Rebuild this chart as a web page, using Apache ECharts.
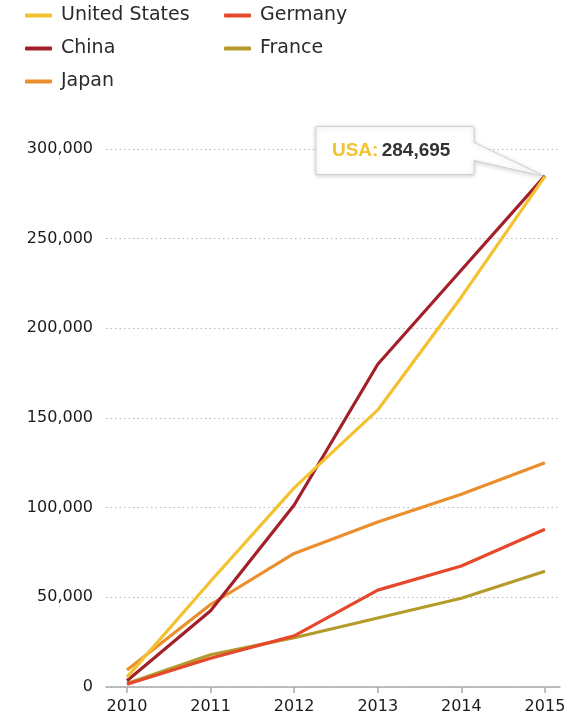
<!DOCTYPE html>
<html>
<head>
<meta charset="utf-8">
<script src="https://cdn.jsdelivr.net/npm/echarts@6/dist/echarts.min.js"></script>
<style>
  html, body { margin: 0; padding: 0; background: #fff; }
  #chart { width: 572px; height: 725px; }
</style>
</head>
<body>
<div id="chart"></div>
<script>
var years = [2010, 2011, 2012, 2013, 2014, 2015]
var usa = [5500, 59000, 111000, 154500, 217500, 284695]
var china = [3500, 42500, 101500, 180000, 232500, 285000]
var japan = [9500, 46000, 74500, 92000, 107500, 125000]
var germany = [1500, 16000, 28500, 54000, 67500, 88000]
var france = [2000, 18000, 27500, 38500, 49500, 64500]
var yTicks = [0, 50000, 100000, 150000, 200000, 250000, 300000]

var font = 'DejaVu Sans'
var colors = ['#F2C230', '#A3202A', '#EB8F2D', '#E5482A', '#B59B2A']

function pairs(values) {
  return years.map(function(y, i) { return [y, values[i]] })
}

function fmt(v) {
  return Number(v).toLocaleString('en-US')
}

var chart = echarts.init(document.getElementById('chart'), null, { renderer: 'canvas' })

var names = ['United States', 'China', 'Japan', 'Germany', 'France']
var values = [usa, china, japan, germany, france]
var series = []
for (var i = 0; i < names.length; i++) {
  series.push({
    name: names[i],
    type: 'line',
    data: pairs(values[i]),
    showSymbol: false,
    symbol: 'none',
    lineStyle: { width: 3.2, color: colors[i] },
    itemStyle: { color: colors[i] },
    z: 10 - i
  })
}

var legendBase = {
  orient: 'vertical',
  top: 1,
  itemGap: 14,
  itemWidth: 27,
  itemHeight: 4,
  icon: 'roundRect',
  textStyle: { fontFamily: font, fontSize: 19, color: '#2a2a2a', padding: [0, 0, 0, 4] }
}

chart.setOption({
  animation: false,
  legend: [
    Object.assign({}, legendBase, { left: 20, data: ['United States', 'China', 'Japan'] }),
    Object.assign({}, legendBase, { left: 219, data: ['Germany', 'France'] })
  ],
  grid: { left: 106, right: 12, top: 149, bottom: 38, containLabel: false },
  xAxis: {
    type: 'value',
    min: 2009.749,
    max: 2015.18,
    axisLine: { show: true, onZero: false, lineStyle: { color: '#aaa', width: 1.5 } },
    axisTick: { show: true, length: 6, customValues: years, lineStyle: { color: '#aaa', width: 1.5 } },
    axisLabel: {
      customValues: years,
      margin: 12,
      fontFamily: font,
      fontSize: 16,
      color: '#1a1a1a',
      formatter: function(v) { return String(v) }
    },
    splitLine: { show: false }
  },
  yAxis: {
    type: 'value',
    min: 0,
    max: 300000,
    interval: 50000,
    axisLine: { show: false },
    axisTick: { show: false },
    axisLabel: {
      margin: 13,
      fontFamily: font,
      fontSize: 16,
      color: '#1a1a1a',
      formatter: function(v) { return fmt(v) }
    },
    splitLine: { lineStyle: { type: [1.5, 3], color: '#bbb', width: 1.2 } }
  },
  series: series
})

// callout for the last USA value
var last = years.length - 1
var p = chart.convertToPixel({ seriesIndex: 0 }, [years[last], usa[last]])
var bx = p[0] - 71
var bl = p[0] - 229
var bt = p[1] - 50
var bb = p[1] - 2
chart.setOption({
  graphic: [{
    type: 'group',
    z: 100,
    children: [{
      type: 'polygon',
      shape: {
        points: [[bl, bt], [bx, bt], [bx, p[1] - 34], [p[0], p[1]], [bx, p[1] - 16], [bx, bb], [bl, bb]]
      },
      style: {
        fill: '#fff',
        stroke: '#d0d0d0',
        lineWidth: 1,
        shadowBlur: 5,
        shadowColor: 'rgba(0,0,0,0.18)',
        shadowOffsetY: 1
      }
    }, {
      type: 'text',
      x: bl + 16,
      y: (bt + bb) / 2,
      style: {
        text: '{a|USA:} {b|' + fmt(usa[last]) + '}',
        verticalAlign: 'middle',
        rich: {
          a: { fontFamily: 'Liberation Sans', fontWeight: 'bold', fontSize: 19, fill: colors[0] },
          b: { fontFamily: 'Liberation Sans', fontWeight: 'bold', fontSize: 19, fill: '#333' }
        }
      }
    }]
  }]
})
</script>
</body>
</html>
